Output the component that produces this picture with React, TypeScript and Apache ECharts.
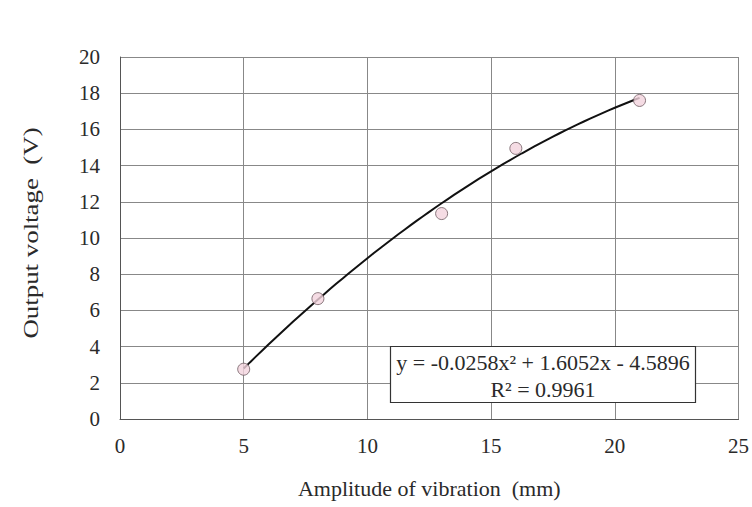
import React, { useEffect, useRef } from "react";
import * as echarts from "echarts";

const amplitude = [5, 8, 13, 16, 21];
const voltage = [2.75, 6.65, 11.35, 14.95, 17.6];
const trendCoeffs = [-0.0258, 1.6052, -4.5896]; // a, b, c from the chart's trendline label
const trendRange = [5, 21];
const equationText = "y = -0.0258x² + 1.6052x - 4.5896";
const r2Text = "R² = 0.9961";
const xTitle = "Amplitude of vibration  (mm)";
const yTitle = "Output voltage  (V)";

const FONT = "'Liberation Serif', 'DejaVu Serif', serif";

export default function App() {
  const ref = useRef<HTMLDivElement>(null);
  useEffect(() => {
    document.body.style.margin = "0";
    document.body.style.overflow = "hidden";
    if (!ref.current) return;
    const chart = echarts.init(ref.current, null, { renderer: "svg" });
    const trend: number[][] = [];
    const [a, b, c] = trendCoeffs;
    for (let x = trendRange[0]; x <= trendRange[1] + 1e-9; x += 0.25) {
      trend.push([x, a * x * x + b * x + c]);
    }
    chart.setOption({
      animation: false,
      backgroundColor: "#fff",
      textStyle: { fontFamily: FONT },
      grid: { left: 120, right: 13, top: 57, bottom: 88 },
      xAxis: {
        type: "value",
        min: 0,
        max: 25,
        interval: 5,
        name: xTitle,
        nameLocation: "middle",
        nameGap: 58,
        nameTextStyle: { fontFamily: FONT, fontSize: 22, color: "#2a2a2a" },
        axisLine: { show: true, lineStyle: { color: "#555", width: 1 } },
        axisTick: { show: false },
        axisLabel: { fontFamily: FONT, fontSize: 21, color: "#2a2a2a", margin: 16 },
        splitLine: { show: true, lineStyle: { color: "#888", width: 1 } },
      },
      yAxis: {
        type: "value",
        min: 0,
        max: 20,
        interval: 2,
        axisLine: { show: true, lineStyle: { color: "#555", width: 1 } },
        axisTick: { show: false },
        axisLabel: { fontFamily: FONT, fontSize: 21, color: "#2a2a2a", margin: 20 },
        splitLine: { show: true, lineStyle: { color: "#888", width: 1 } },
      },
      series: [
        {
          type: "line",
          data: trend,
          showSymbol: false,
          symbol: "none",
          smooth: false,
          lineStyle: { color: "#111", width: 2 },
          z: 2,
        },
        {
          type: "scatter",
          data: amplitude.map((x, i) => [x, voltage[i]]),
          symbol: "circle",
          symbolSize: 12,
          itemStyle: { color: "#f2d3dd", borderColor: "#6e5a60", borderWidth: 1 },
          z: 3,
        },
      ],
      graphic: [
        {
          type: "text",
          x: 31,
          y: 233,
          rotation: Math.PI / 2,
          scaleX: 1.28,
          style: {
            text: yTitle,
            fontFamily: FONT,
            fontSize: 21,
            fill: "#2a2a2a",
            align: "center",
            verticalAlign: "middle",
          },
        },
        {
          type: "rect",
          z: 100,
          shape: { x: 390.5, y: 346.5, width: 305, height: 56 },
          style: { fill: "#fff", stroke: "#333", lineWidth: 1.2 },
        },
        {
          type: "text",
          z: 101,
          x: 543,
          y: 362,
          style: {
            text: equationText,
            fontFamily: FONT,
            fontSize: 22,
            fill: "#2a2a2a",
            align: "center",
            verticalAlign: "middle",
          },
        },
        {
          type: "text",
          z: 101,
          x: 543,
          y: 389,
          style: {
            text: r2Text,
            fontFamily: FONT,
            fontSize: 22,
            fill: "#2a2a2a",
            align: "center",
            verticalAlign: "middle",
          },
        },
      ],
    });
    return () => chart.dispose();
  }, []);
  return (
    <div
      ref={ref}
      style={{ position: "fixed", left: 0, top: 0, width: 752, height: 507 }}
    />
  );
}
